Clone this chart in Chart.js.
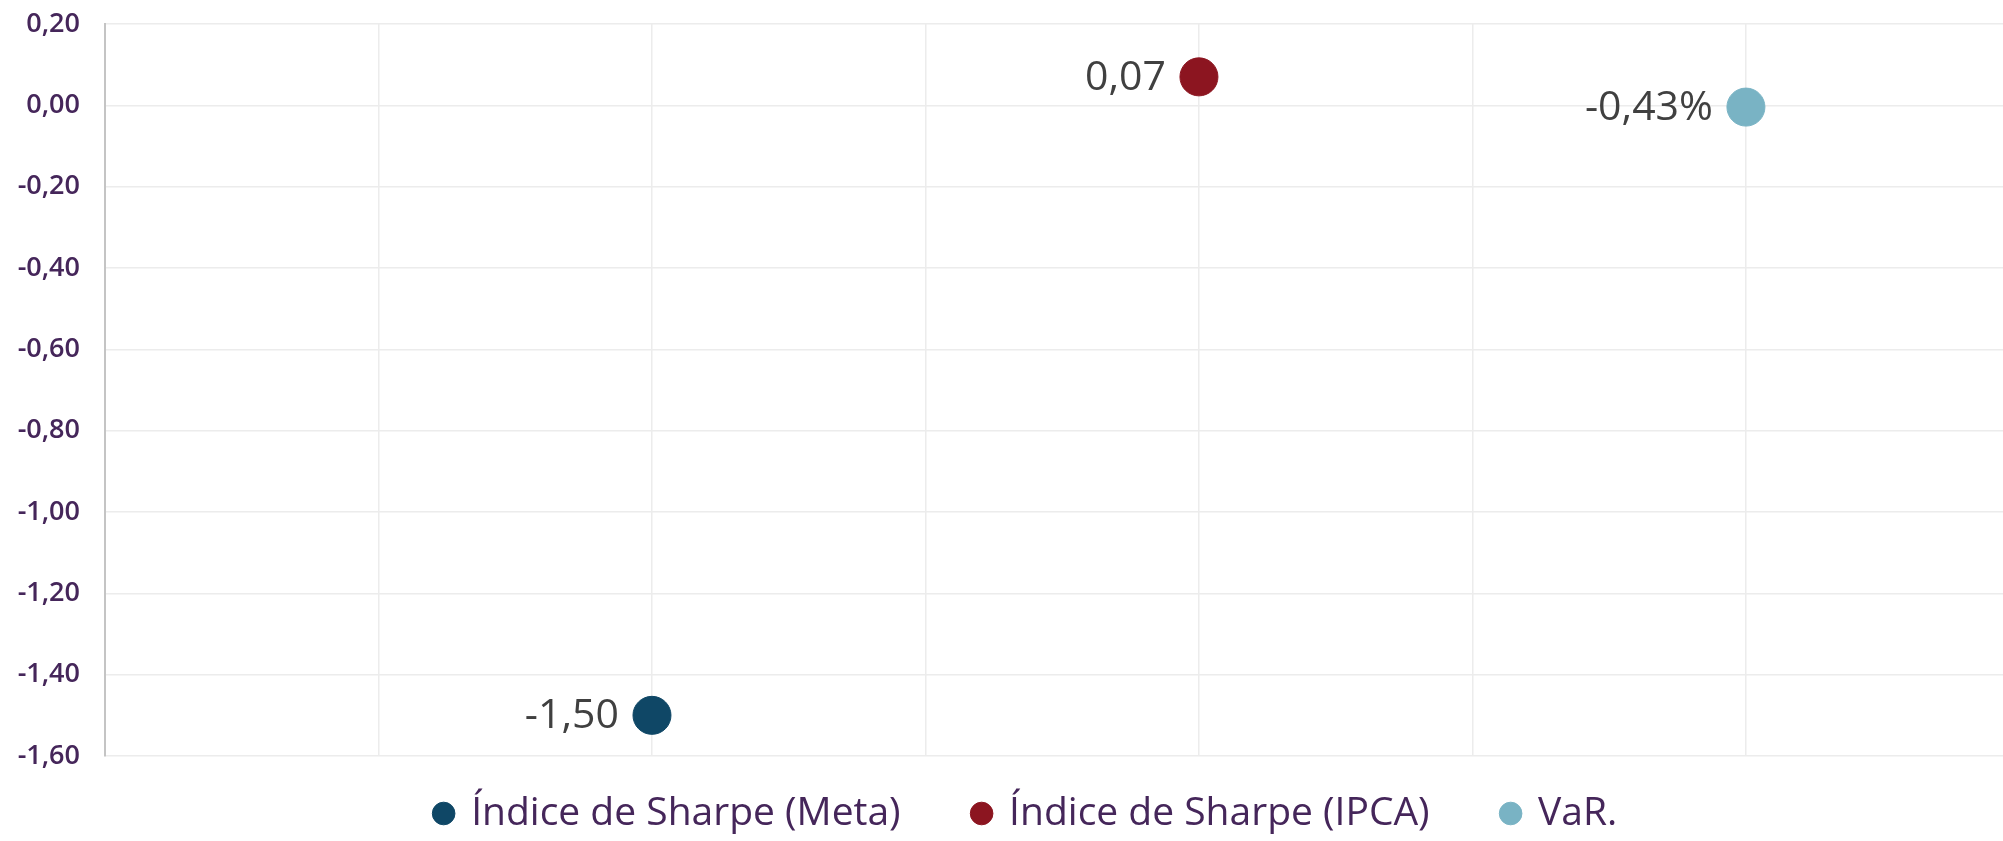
<!DOCTYPE html>
<html>
<head>
<meta charset="utf-8">
<script src="https://cdn.jsdelivr.net/npm/chart.js@4.4.1/dist/chart.umd.min.js"></script>
<style>
  body { margin: 0; background: #fff; overflow: hidden; }
  #wrap { width: 2003px; height: 841px; position: relative; }
</style>
</head>
<body>
<div id="wrap"><canvas id="riskChart"></canvas></div>
<script>
// séries (uma por indicador)
const categories = ["Índice de Sharpe (Meta)", "Índice de Sharpe (IPCA)", "VaR."];
const xPositions = [2, 4, 6];
const yValues = [-1.50, 0.07, -0.0043];
const pointLabels = ["-1,50", "0,07", "-0,43%"];
const seriesColors = ["#0f4766", "#8c1520", "#79b3c4"];
const yTickValues = [0.2, 0, -0.2, -0.4, -0.6, -0.8, -1.0, -1.2, -1.4, -1.6];
const xGridValues = [0, 1, 2, 3, 4, 5, 6];

const datasets = categories.map((name, i) => ({
  label: name,
  data: [{ x: xPositions[i], y: yValues[i] }],
  backgroundColor: seriesColors[i],
  borderColor: seriesColors[i],
  pointRadius: 19,
  pointHoverRadius: 19,
  pointStyle: "circle",
}));

// rótulos ao lado de cada ponto
const pointLabelPlugin = {
  id: "pointLabels",
  afterDatasetsDraw(chart) {
    const ctx = chart.ctx;
    ctx.save();
    ctx.font = "41px 'Open Sans'";
    ctx.fillStyle = "#404040";
    ctx.textAlign = "right";
    ctx.textBaseline = "middle";
    chart.data.datasets.forEach((ds, i) => {
      const el = chart.getDatasetMeta(i).data[0];
      ctx.fillText(pointLabels[i], el.x - 33, el.y + 1);
    });
    ctx.restore();
  },
};

// altura fixa da legenda e deslocamento do bloco
const legendPlace = {
  id: "legendPlace",
  beforeInit(chart) {
    const origFit = chart.legend.fit;
    chart.legend.fit = function () {
      origFit.bind(chart.legend)();
      this.height = 85;
    };
  },
  afterLayout(chart) {
    const lg = chart.legend;
    lg.top -= 35;
    lg.left += 25;
    lg.right += 25;
  },
};

const fmt = (v) => (Math.abs(v) < 1e-9 ? 0 : v).toFixed(2).replace(".", ",");

new Chart(document.getElementById("riskChart"), {
  type: "scatter",
  data: { datasets: datasets },
  plugins: [pointLabelPlugin, legendPlace],
  options: {
    responsive: true,
    maintainAspectRatio: false,
    animation: false,
    layout: { autoPadding: false, padding: { top: 24, right: 0, bottom: 0, left: 0 } },
    scales: {
      x: {
        type: "linear",
        min: 0,
        max: 6.94,
        afterBuildTicks: (scale) => {
          scale.ticks = xGridValues.map((v) => ({ value: v }));
        },
        ticks: { display: false },
        grid: { color: "#ececec", lineWidth: 1.5, drawTicks: false },
        border: { display: false },
      },
      y: {
        min: -1.6,
        max: 0.2,
        afterBuildTicks: (scale) => {
          scale.ticks = yTickValues.map((v) => ({ value: v }));
        },
        afterFit: (scale) => {
          scale.width = 105;
          scale.paddingTop = 0;
          scale.paddingBottom = 0;
        },
        ticks: {
          padding: 25,
          color: "#45265a",
          font: { family: "'Open Sans'", size: 27, weight: "600" },
          callback: (v) => fmt(v),
        },
        grid: { color: "#ececec", lineWidth: 1.5, drawTicks: false },
        border: { display: true, color: "#c4c4c4", width: 2 },
      },
    },
    plugins: {
      tooltip: { enabled: false },
      legend: {
        position: "bottom",
        labels: {
          usePointStyle: true,
          pointStyle: "circle",
          boxWidth: 16,
          boxHeight: 16,
          padding: 73,
          color: "#45265a",
          font: { family: "'Open Sans'", size: 39 },
        },
      },
    },
  },
});
</script>
</body>
</html>
